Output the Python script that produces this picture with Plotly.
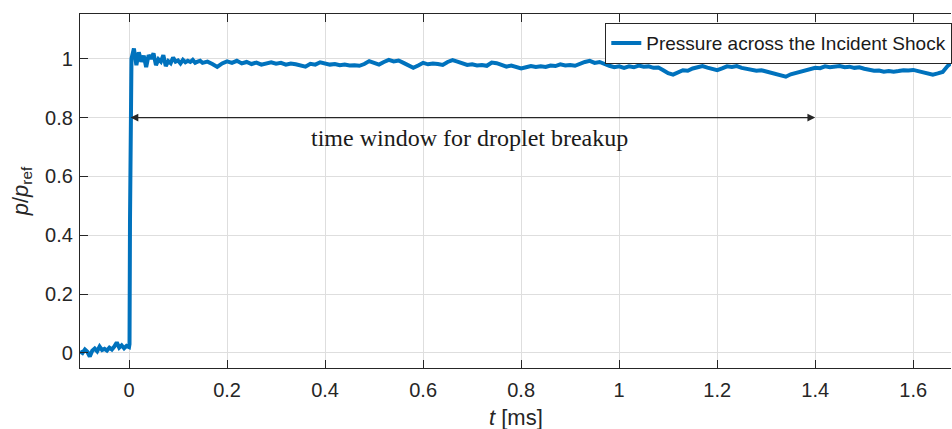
import plotly.graph_objects as go

# Time axis [ms]
t_pre = [-0.100, -0.095, -0.090, -0.085, -0.080, -0.075, -0.070, -0.065, -0.060, -0.055,
         -0.050, -0.045, -0.040, -0.035, -0.030, -0.025, -0.020, -0.015, -0.010, -0.005,
         0.000, 0.001, 0.002, 0.003, 0.004]
p_pre = [0.005, 0.000, 0.012, 0.004, -0.012, 0.008, 0.015, 0.006, 0.022, 0.010,
         0.014, 0.008, 0.018, 0.012, 0.022, 0.036, 0.018, 0.026, 0.016, 0.024,
         0.020, 0.030, 0.450, 0.900, 0.975]

t_early = [0.005, 0.010, 0.015, 0.020, 0.025, 0.030, 0.035, 0.040, 0.045, 0.050,
           0.055, 0.060, 0.065, 0.070, 0.075, 0.080, 0.085, 0.090, 0.095, 0.100,
           0.105, 0.110, 0.115, 0.120, 0.125, 0.130, 0.135, 0.140, 0.145, 0.150]
p_early = [1.000, 1.035, 0.978, 1.022, 0.990, 1.010, 0.972, 1.012, 1.000, 1.018,
           0.978, 0.998, 0.990, 1.012, 0.975, 0.992, 0.985, 1.004, 0.990, 0.994,
           0.984, 0.996, 0.988, 0.993, 0.989, 0.996, 0.986, 0.990, 0.993, 0.986]

t_late = [round(0.16 + 0.01 * i, 2) for i in range(153)]
p_late = [0.990, 0.982, 0.972, 0.984, 0.991, 0.986, 0.993, 0.984, 0.989, 0.982,
          0.987, 0.980, 0.984, 0.988, 0.983, 0.986, 0.980, 0.984, 0.981, 0.976,
          0.973, 0.983, 0.980, 0.988, 0.985, 0.980, 0.982, 0.978, 0.980, 0.977,
          0.978, 0.976, 0.982, 0.992, 0.986, 0.980, 0.989, 0.996, 0.991, 0.994,
          0.986, 0.976, 0.969, 0.977, 0.986, 0.981, 0.984, 0.982, 0.979, 0.989,
          0.995, 0.990, 0.985, 0.979, 0.981, 0.977, 0.979, 0.976, 0.987, 0.985,
          0.979, 0.973, 0.977, 0.971, 0.967, 0.971, 0.975, 0.972, 0.974, 0.972,
          0.977, 0.975, 0.981, 0.977, 0.979, 0.976, 0.984, 0.989, 0.993, 0.986,
          0.989, 0.981, 0.976, 0.971, 0.974, 0.969, 0.974, 0.971, 0.977, 0.973,
          0.974, 0.969, 0.970, 0.961, 0.951, 0.946, 0.954, 0.961, 0.959, 0.967,
          0.971, 0.975, 0.970, 0.966, 0.961, 0.967, 0.974, 0.972, 0.975, 0.969,
          0.966, 0.963, 0.959, 0.961, 0.956, 0.953, 0.949, 0.943, 0.939, 0.947,
          0.952, 0.957, 0.962, 0.966, 0.969, 0.968, 0.974, 0.971, 0.972, 0.975,
          0.971, 0.973, 0.969, 0.971, 0.966, 0.962, 0.959, 0.960, 0.956, 0.958,
          0.956, 0.958, 0.961, 0.960, 0.962, 0.958, 0.953, 0.949, 0.946, 0.950,
          0.955, 0.975, 0.990]

t = t_pre + t_early + t_late
p = p_pre + p_early + p_late

x_ticks = [0, 0.2, 0.4, 0.6, 0.8, 1.0, 1.2, 1.4, 1.6]
x_ticklabels = ["0", "0.2", "0.4", "0.6", "0.8", "1", "1.2", "1.4", "1.6"]
y_ticks = [0, 0.2, 0.4, 0.6, 0.8, 1.0]
y_ticklabels = ["0", "0.2", "0.4", "0.6", "0.8", "1"]

window_start, window_end, window_level = 0.0, 1.4, 0.8

AX = "#262626"
GRID = "#dedede"
BLUE = "#0072BD"

fig = go.Figure()
fig.add_trace(go.Scatter(
    x=t, y=p, mode="lines",
    line=dict(color=BLUE, width=4),
    name="Pressure across the Incident Shock",
))

# double-headed arrow marking the breakup window
fig.add_annotation(
    x=window_end, y=window_level, ax=window_start, ay=window_level,
    xref="x", yref="y", axref="x", ayref="y",
    text="", showarrow=True, arrowside="end+start",
    arrowhead=2, arrowsize=1.3, arrowwidth=1.2, arrowcolor=AX,
)
fig.add_annotation(
    x=0.694, y=0.73, xref="x", yref="y",
    text="time window for droplet breakup", showarrow=False,
    font=dict(family="Liberation Serif", size=24, color="#1a1a1a"),
)

# x-axis title placed below the tick labels
fig.add_annotation(
    x=0.5, y=-0.141, xref="paper", yref="paper",
    xanchor="center", yanchor="middle",
    text="<i>t</i> [ms]", showarrow=False,
    font=dict(family="Liberation Sans", size=22, color="#262626"),
)

axis_common = dict(
    showline=True, linecolor=AX, linewidth=1.3,
    ticks="inside", ticklen=8, tickwidth=1.3, tickcolor=AX,
    showgrid=True, gridcolor=GRID, gridwidth=1, zeroline=False,
    tickfont=dict(family="Liberation Sans", size=20, color="#262626"),
)

fig.update_xaxes(
    range=[-0.1, 1.677], tickvals=x_ticks, ticktext=x_ticklabels,
    mirror="ticks", ticklabelstandoff=4,
    **axis_common,
)
fig.update_yaxes(
    range=[-0.051, 1.152], tickvals=y_ticks, ticktext=y_ticklabels,
    mirror=False, ticklabelstandoff=2,
    title=dict(text="<i>p</i>/<i>p</i><sub>ref</sub>", standoff=10,
               font=dict(family="Liberation Sans", size=22, color="#262626")),
    **axis_common,
)

fig.update_layout(
    width=952, height=429,
    margin=dict(l=80, r=0, t=14, b=61),
    paper_bgcolor="white", plot_bgcolor="white",
    showlegend=True,
    legend=dict(
        x=0.603, y=0.975, xanchor="left", yanchor="top",
        bgcolor="white", bordercolor=AX, borderwidth=1.3,
        font=dict(family="Liberation Sans", size=19, color="#1a1a1a"),
        tracegroupgap=0, itemwidth=30,
        entrywidth=370, entrywidthmode="pixels",
    ),
)

fig.write_html("out.html")
